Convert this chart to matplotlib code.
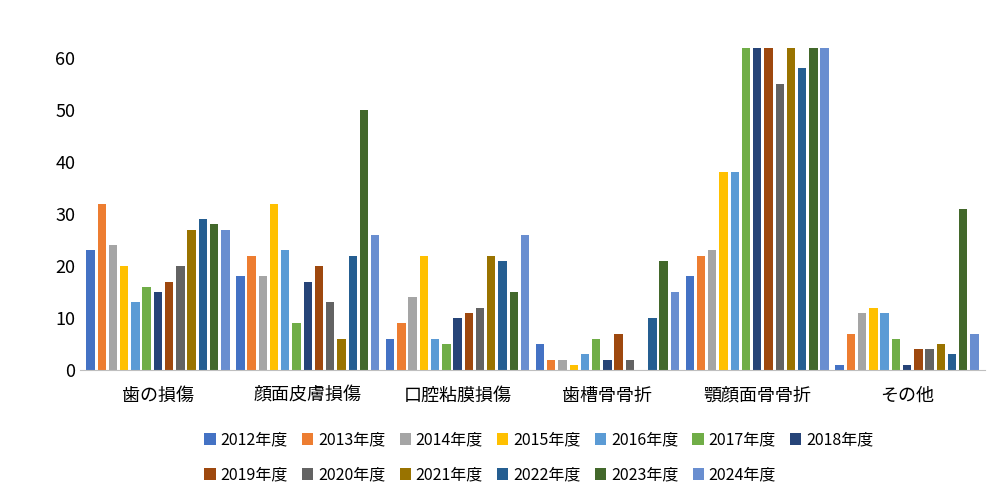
import matplotlib
matplotlib.use("Agg")
import matplotlib.pyplot as plt
import numpy as np

plt.rcParams["font.family"] = "Noto Sans CJK JP"

categories = ["歯の損傷", "顔面皮膚損傷", "口腔粘膜損傷", "歯槽骨骨折", "顎顔面骨骨折", "その他"]
years = ["2012年度", "2013年度", "2014年度", "2015年度", "2016年度", "2017年度", "2018年度",
         "2019年度", "2020年度", "2021年度", "2022年度", "2023年度", "2024年度"]
values = {
    "2012年度": [23, 18, 6, 5, 18, 1],
    "2013年度": [32, 22, 9, 2, 22, 7],
    "2014年度": [24, 18, 14, 2, 23, 11],
    "2015年度": [20, 32, 22, 1, 38, 12],
    "2016年度": [13, 23, 6, 3, 38, 11],
    "2017年度": [16, 9, 5, 6, 65, 6],
    "2018年度": [15, 17, 10, 2, 65, 1],
    "2019年度": [17, 20, 11, 7, 65, 4],
    "2020年度": [20, 13, 12, 2, 55, 4],
    "2021年度": [27, 6, 22, 0, 65, 5],
    "2022年度": [29, 22, 21, 10, 58, 3],
    "2023年度": [28, 50, 15, 21, 65, 31],
    "2024年度": [27, 26, 26, 15, 65, 7],
}
colors = ["#4472C4", "#ED7D31", "#A5A5A5", "#FFC000", "#5B9BD5", "#70AD47", "#264478",
          "#9E480E", "#636363", "#997300", "#255E91", "#43682B", "#698ED0"]

fig = plt.figure(figsize=(10, 5), dpi=100)
ax = fig.add_axes([0.08, 0.26, 0.905, 0.645])
x = np.arange(len(categories))
step = 0.075
width = 0.056
for i, y in enumerate(years):
    ax.bar(x + (i - 6) * step, values[y], width, color=colors[i], label=y)

ax.set_ylim(0, 62)
ax.set_xlim(-0.52, 5.52)
ax.set_yticks(range(0, 61, 10))
ax.set_xticks(x)
ax.set_xticklabels(categories, fontsize=13)
ax.tick_params(axis="y", labelsize=13, length=0)
ax.tick_params(axis="x", length=0, pad=12)
for s in ["top", "right", "left"]:
    ax.spines[s].set_visible(False)
ax.spines["bottom"].set_color("#BFBFBF")

h, l = ax.get_legend_handles_labels()
fig.legend(h[:7], l[:7], loc="center left", bbox_to_anchor=(0.19, 0.12), ncol=7, frameon=False,
           fontsize=11.5, handlelength=0.7, handletextpad=0.3, columnspacing=0.9)
fig.legend(h[7:], l[7:], loc="center left", bbox_to_anchor=(0.19, 0.05), ncol=6, frameon=False,
           fontsize=11.5, handlelength=0.7, handletextpad=0.3, columnspacing=0.9)
fig.savefig("out.png")
